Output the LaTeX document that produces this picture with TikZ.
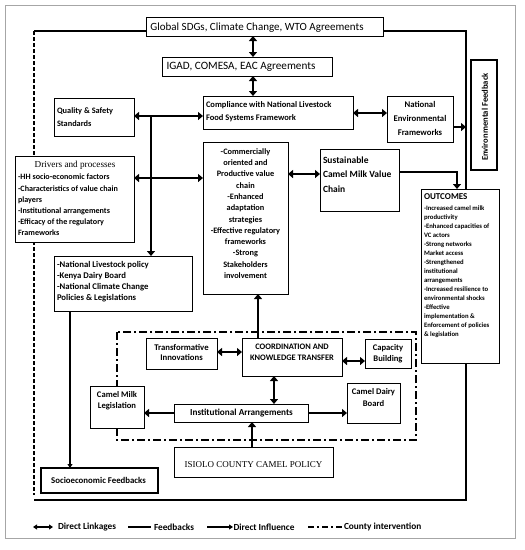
\documentclass[tikz,border=0pt]{standalone}
\usepackage{fontspec}
\setmainfont{Carlito}
\newfontfamily\timesf{Liberation Serif}
\usetikzlibrary{arrows.meta}
\newcommand\DBox[6]{\node[box,#6,anchor=north west,minimum width={#4pt-#2pt},minimum height={#5pt-#3pt}] (#1) at (#2,#3) {};}
\newcommand\fs[2]{\fontsize{#1}{#2}\selectfont}
\tikzset{
  box/.style={draw,line width=0.9pt,fill=white,inner sep=0pt,outer sep=0pt},
  thickbox/.style={line width=1.8pt},
  txt/.style={inner sep=0pt,outer sep=0pt},
  tip/.tip={Triangle[length=5pt,width=8pt]},
  stip/.tip={Triangle[length=4pt,width=5pt]},
  dbl/.style={line width=2.6pt,tip-tip},
  infl/.style={line width=2.6pt,-tip},
  fbline/.style={line width=1.2pt},
  dashdotline/.style={line width=1.6pt,dash pattern=on 8pt off 3pt on 2pt off 3pt},
  legtxt/.style={txt,font=\bfseries\fs{9.3}{10},anchor=west},
}
\begin{document}
\begin{tikzpicture}[x=1pt,y=-1pt]
\useasboundingbox (0,0) rectangle (525,550);
% outer gray frame
\draw[line width=0.8pt,gray!70] (5,5) rectangle (515,538);
% frame coordinates
\coordinate (fTL) at (34,31);
\coordinate (fBL) at (34,500);
\coordinate (fBR) at (466,500);
\coordinate (fTR) at (466,31);
\coordinate (gL) at (146,31);
\coordinate (gR) at (383,31);
% outer black frame (drawn first so boxes cover it)
\draw[fbline] (gL) -- (fTL);
\draw[fbline,dash pattern=on 4pt off 2pt] (fTL) -- ([yshift=5pt]fBL);
\draw[fbline] (fBL) -- (fBR) -- (fTR) -- (gR);
% county intervention rectangle
\draw[dashdotline] (117,332) rectangle (416,440);

% boxes
\DBox{global}{146}{17}{383}{36}{}
\DBox{igad}{162}{57}{332}{76}{}
\DBox{comp}{203}{96}{353}{129}{}
\DBox{quality}{54}{98}{134}{136}{}
\DBox{natenv}{387}{96}{453}{142}{}
\DBox{envfb}{471}{60}{497}{170}{thickbox}
\DBox{drivers}{15}{156}{134}{242}{}
\DBox{comm}{203}{142}{288}{294}{}
\DBox{sust}{320}{149}{399}{211}{}
\DBox{natlive}{54}{256}{192}{311}{}
\DBox{socio}{41}{468}{158}{493}{thickbox}
\DBox{trans}{146}{338}{217}{369}{}
\DBox{coord}{242}{338}{342}{376}{}
\DBox{cap}{365}{339}{411}{368}{}
\DBox{inst}{174}{404}{308}{422}{}
\DBox{cml}{90}{386}{144}{428}{}
\DBox{cdb}{347}{383}{400}{423}{}
\DBox{isiolo}{174}{447}{333}{477}{}
\DBox{outc}{421}{189}{499}{363}{}

% texts
\node[txt,font=\fs{11}{12}] (t-global) at (257,27.5) {Global SDGs, Climate Change, WTO Agreements};
\node[txt,font=\fs{11.2}{12}] (t-igad) at (241,67) {IGAD, COMESA, EAC Agreements};
\node[txt,font=\bfseries\fs{8.5}{13},anchor=west,align=left] (t-comp) at (206,112) {Compliance with National Livestock\\Food Systems Framework};
\node[txt,font=\bfseries\fs{8.3}{13},anchor=west,align=left] (t-quality) at (57,117) {Quality \& Safety\\Standards};
\node[txt,font=\bfseries\fs{8.7}{14},align=center] (t-natenv) at (420,118) {National\\Environmental\\Frameworks};
\node[txt,font=\bfseries\fs{8.6}{10},rotate=90] (t-envfb) at (485,117) {Environmental Feedback};
\node[txt,font=\timesf\fs{9.2}{11}] (t-drvtitle) at (75,165) {Drivers and processes};
\node[txt,font=\bfseries\fs{8.1}{11.17},anchor=west,align=left] (t-drivers) at (18,205) {-HH socio-economic factors\\-Characteristics of value chain\\players\\-Institutional arrangements\\-Efficacy of the regulatory\\Frameworks};
\node[txt,font=\bfseries\fs{8.3}{11.27},align=center] (t-comm) at (245.5,213.5) {-Commercially\\oriented and\\Productive value\\chain\\-Enhanced\\adaptation\\strategies\\-Effective regulatory\\frameworks\\-Strong\\Stakeholders\\involvement};
\node[txt,font=\bfseries\fs{9.5}{14.8},anchor=west,align=left] (t-sust) at (323,174.5) {Sustainable\\Camel Milk Value\\Chain};
\node[txt,font=\bfseries\fs{9}{10},anchor=west] (t-outtitle) at (424,197) {OUTCOMES};
\node[txt,font=\bfseries\fs{6.7}{9.04},anchor=west,align=left] (t-outc) at (424,271.5) {-Increased camel milk\\productivity\\-Enhanced capacities of\\VC actors\\-Strong networks\\Market access\\-Strengthened\\institutional\\arrangements\\-Increased resilience to\\environmental shocks\\-Effective\\implementation \&\\Enforcement of policies\\\& legislation};
\node[txt,font=\bfseries\fs{8.7}{11.1},anchor=west,align=left] (t-natlive) at (57,282) {-National Livestock policy\\-Kenya Dairy Board\\-National Climate Change\\Policies \& Legislations};
\node[txt,font=\bfseries\fs{8.8}{10}] (t-socio) at (98.5,480.5) {Socioeconomic Feedbacks};
\node[txt,font=\bfseries\fs{8.7}{10.8},align=center] (t-trans) at (181.5,352.5) {Transformative\\Innovations};
\node[txt,font=\bfseries\fs{8.4}{11},align=center] (t-coord) at (292,352.5) {COORDINATION AND\\KNOWLEDGE TRANSFER};
\node[txt,font=\bfseries\fs{8.6}{11.3},align=center] (t-cap) at (388,353.5) {Capacity\\Building};
\node[txt,font=\bfseries\fs{9.2}{10}] (t-inst) at (241.5,413.5) {Institutional Arrangements};
\node[txt,font=\bfseries\fs{8.6}{11.3},align=center] (t-cml) at (117,400.5) {Camel Milk\\Legislation};
\node[txt,font=\bfseries\fs{8.6}{12},align=center] (t-cdb) at (373.5,397.5) {Camel Dairy\\Board};
\node[txt,font=\timesf\fs{9}{10}] (t-isiolo) at (253.5,465) {ISIOLO COUNTY CAMEL POLICY};

% connectors
\draw[dbl] (253,0 |- global.south) -- (253,0 |- igad.north);
\draw[dbl] (253,0 |- igad.south) -- (253,0 |- comp.north);
\coordinate (jq) at (151,116);
\draw[dbl] (quality.east |- jq) -- (comp.west |- jq);
\draw[infl] (jq) -- (natlive.north -| jq);
\draw[dbl] (drivers.east |- 0,178) -- (comm.west |- 0,178);
\draw[dbl] (comp.east |- 0,113) -- (natenv.west |- 0,113);
\coordinate (envj) at (466,127);
\draw[line width=2pt,-tip] (natenv.east |- envj) -- (envj);
\draw[dbl] (comm.east |- 0,174) -- (sust.west |- 0,174);
\draw[line width=2pt,-tip] (sust.east |- 0,172) -| (outc.north -| 457,0);
\draw[fbline,-stip] (natlive.south -| 70,0) -- (socio.north -| 70,0);
\draw[infl] (coord.north -| 258,0) -- (comm.south -| 258,0);
\draw[dbl] (trans.east |- 0,352) -- (coord.west |- 0,352);
\draw[dbl] (coord.east |- 0,361) -- (cap.west |- 0,361);
\draw[dbl] (coord.south -| 274,0) -- (inst.north -| 274,0);
\draw[infl] (inst.west) -- (cml.east |- inst.west);
\draw[infl] (inst.east) -- (cdb.west |- inst.east);
\draw[infl] (isiolo.north -| 252,0) -- (inst.south -| 252,0);

% legend
\coordinate (l1a) at (33,527); \coordinate (l1b) at (53,527);
\draw[line width=1.8pt,stip-stip] (l1a) -- (l1b);
\node[legtxt] (leg1) at (58,527) {Direct Linkages};
\coordinate (l2a) at (128,527); \coordinate (l2b) at (151,527);
\draw[fbline] (l2a) -- (l2b);
\node[legtxt] (leg2) at (154,527) {Feedbacks};
\coordinate (l3a) at (207,527); \coordinate (l3b) at (233,527);
\draw[line width=1.5pt,-stip] (l3a) -- (l3b);
\node[legtxt] (leg3) at (233.5,527) {Direct Influence};
\coordinate (l4a) at (308,527); \coordinate (l4b) at (343,527);
\draw[line width=1.4pt,dash pattern=on 6pt off 3pt on 2pt off 3pt] (l4a) -- (l4b);
\node[legtxt] (leg4) at (344,527) {County intervention};
\end{tikzpicture}
\end{document}
